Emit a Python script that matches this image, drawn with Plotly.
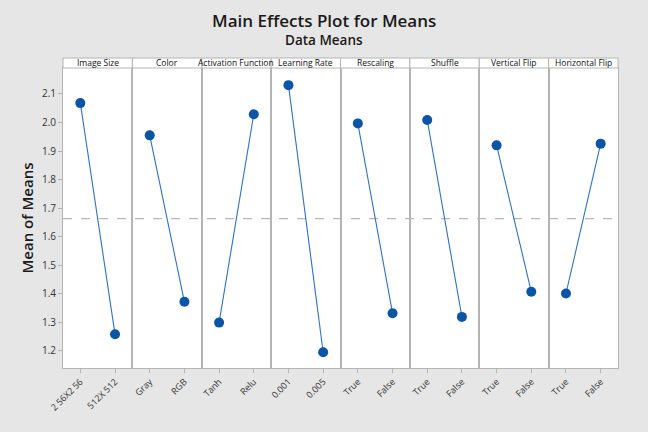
import plotly.graph_objects as go
from plotly.subplots import make_subplots

factors = ["Image Size", "Color", "Activation Function", "Learning Rate",
           "Rescaling", "Shuffle", "Vertical Flip", "Horizontal Flip"]
levels = [["2 56X2 56", "512X 512"], ["Gray", "RGB"], ["Tanh", "Relu"],
          ["0.001", "0.005"], ["True", "False"], ["True", "False"],
          ["True", "False"], ["True", "False"]]
means = [[2.068, 1.258], [1.955, 1.372], [1.299, 2.029], [2.131, 1.195],
         [1.997, 1.332], [2.009, 1.319], [1.920, 1.407], [1.401, 1.926]]
grand_mean = 1.663
y_ticks = [1.2, 1.3, 1.4, 1.5, 1.6, 1.7, 1.8, 1.9, 2.0, 2.1]

n = len(factors)
fig = make_subplots(rows=1, cols=n, shared_yaxes=True, horizontal_spacing=0)

W, H = 648, 432
left, right, top, header_bottom, bottom = 63, 618, 58, 68, 368
ml, mr, mt, mb = left, W - right, top, H - bottom
plot_h = bottom - top
ydom_top = (bottom - header_bottom) / plot_h

grid = "#b4b4b4"
font = "Open Sans, Noto Sans, sans-serif"

for i in range(n):
    fig.add_trace(go.Scatter(
        x=[0, 1], y=means[i], mode="lines+markers",
        line=dict(color="#2f72c4", width=1.1),
        marker=dict(color="#0b55a8", size=10, symbol="circle"),
        showlegend=False, hoverinfo="skip"), row=1, col=i + 1)
    fig.update_xaxes(row=1, col=i + 1, range=[-0.5, 1.5], tickvals=[0, 1],
                     ticktext=levels[i], tickangle=-45, ticks="outside",
                     ticklen=4, tickcolor=grid, showline=True, mirror=True,
                     linecolor=grid, linewidth=1, showgrid=False, zeroline=False,
                     tickfont=dict(size=9, color="#333333", family=font))
    fig.update_yaxes(row=1, col=i + 1, range=[1.14, 2.191], domain=[0, ydom_top],
                     showline=True, mirror=True, linecolor=grid, linewidth=1,
                     showgrid=False, zeroline=False)

fig.update_yaxes(row=1, col=1, tickvals=y_ticks,
                 ticktext=[f"{v:.1f}" for v in y_ticks], ticks="outside",
                 ticklen=4, tickcolor=grid,
                 tickfont=dict(size=10, color="#333333", family=font),
                 title=dict(text="Mean of Means",
                            font=dict(size=15, color="#1a1a1a", family=font, weight=600),
                            standoff=4))

# Reference line at grand mean
fig.add_shape(type="line", xref="paper", yref="y", x0=0, x1=1,
              y0=grand_mean, y1=grand_mean,
              line=dict(color="#b8b8b8", width=1.3, dash="dash"), layer="below")

# Strip headers
for i in range(n):
    x0 = i / n
    x1 = (i + 1) / n
    fig.add_shape(type="rect", xref="paper", yref="paper", x0=x0, x1=x1,
                  y0=ydom_top, y1=1, line=dict(color=grid, width=1),
                  fillcolor="white")
    fig.add_annotation(xref="paper", yref="paper", x=(x0 + x1) / 2,
                       y=(ydom_top + 1) / 2, text=factors[i], showarrow=False,
                       font=dict(size=8.5, color="#111111", family=font),
                       yanchor="middle", xanchor="center")

cx = (W / 2 - ml) / (right - left)
fig.add_annotation(xref="paper", yref="paper", x=cx,
                   y=1 + (top - 20) / plot_h, text="Main Effects Plot for Means",
                   showarrow=False,
                   font=dict(size=17, color="#1a1a1a", family=font, weight=600),
                   yanchor="middle", xanchor="center")
fig.add_annotation(xref="paper", yref="paper", x=cx,
                   y=1 + (top - 40) / plot_h, text="Data Means",
                   showarrow=False,
                   font=dict(size=13.5, color="#1a1a1a", family=font, weight=600),
                   yanchor="middle", xanchor="center")

fig.update_layout(width=W, height=H, margin=dict(l=ml, r=mr, t=mt, b=mb),
                  paper_bgcolor="#e6e6e6", plot_bgcolor="white",
                  font=dict(family=font))

fig.write_html("out.html", config={"displayModeBar": False},
               post_script="document.body.style.margin='0';document.body.style.background='#e6e6e6';")
